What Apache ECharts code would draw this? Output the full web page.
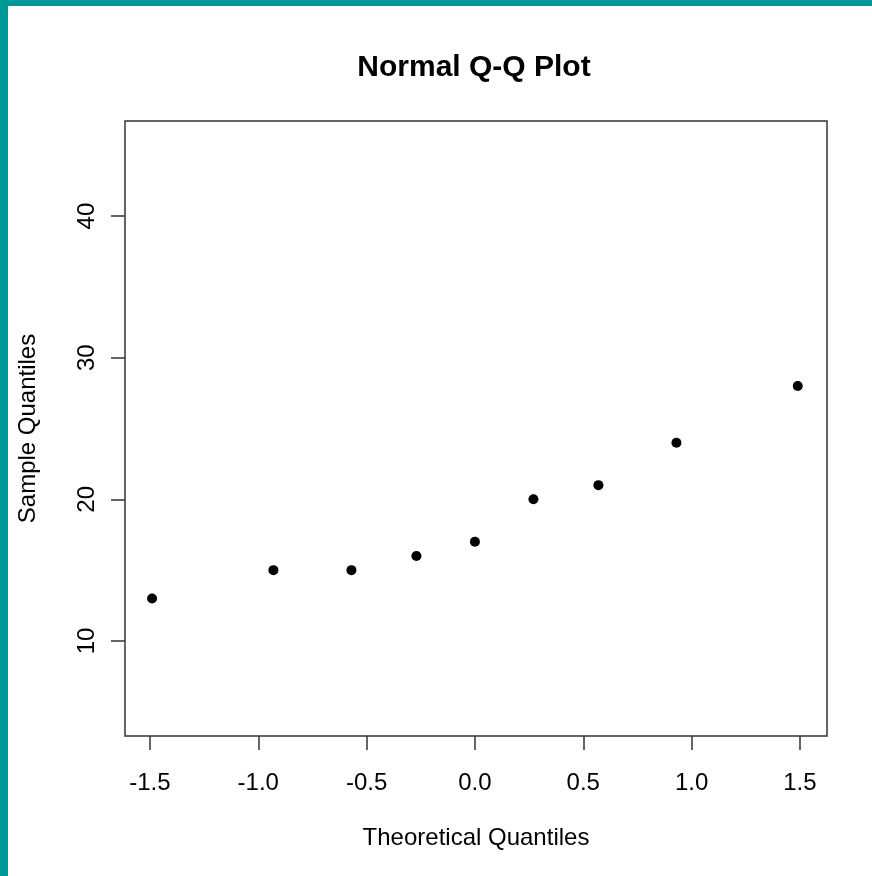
<!DOCTYPE html>
<html>
<head>
<meta charset="utf-8">
<script src="https://cdn.jsdelivr.net/npm/echarts@6/dist/echarts.min.js"></script>
<style>
html,body{margin:0;padding:0;background:#fff;}
#chart{width:872px;height:876px;}
</style>
</head>
<body>
<div id="chart"></div>
<script>
var theoretical = [-1.49, -0.93, -0.57, -0.27, 0.0, 0.27, 0.57, 0.93, 1.49];
var sample = [13, 15, 15, 16, 17, 20, 21, 24, 28];
var xTicks = [-1.5, -1.0, -0.5, 0.0, 0.5, 1.0, 1.5];
var yTicks = [10, 20, 30, 40];

var points = theoretical.map(function (x, i) { return [x, sample[i]]; });
var font = '"Liberation Sans", Arial, sans-serif';

var chart = echarts.init(document.getElementById('chart'));
chart.setOption({
  animation: false,
  backgroundColor: '#ffffff',
  title: {
    text: 'Normal Q-Q Plot',
    left: 469, top: 48, textAlign: 'center',
    textStyle: { fontFamily: font, fontSize: 30, fontWeight: 'bold', color: '#000' }
  },
  graphic: [
    { type: 'rect', shape: { x: 0, y: 0, width: 872, height: 6 }, style: { fill: '#009999' } },
    { type: 'rect', shape: { x: 0, y: 0, width: 8, height: 876 }, style: { fill: '#009999' } }
  ],
  grid: {
    left: 125, top: 121, width: 702, height: 615,
    show: true, borderColor: '#333', borderWidth: 1.5, backgroundColor: 'transparent'
  },
  xAxis: {
    type: 'value', min: -1.615, max: 1.625,
    name: 'Theoretical Quantiles', nameLocation: 'middle', nameGap: 90,
    nameTextStyle: { fontFamily: font, fontSize: 24, color: '#000' },
    splitLine: { show: false },
    axisLine: { show: false, onZero: false },
    axisTick: { show: true, length: 14, inside: false, customValues: xTicks, lineStyle: { color: '#333', width: 1.5 } },
    axisLabel: {
      customValues: xTicks, margin: 35, fontFamily: font, fontSize: 24, color: '#000',
      formatter: function (v) { return v.toFixed(1); }
    }
  },
  yAxis: {
    type: 'value', min: 3.29, max: 46.71,
    name: 'Sample Quantiles', nameLocation: 'middle', nameGap: 85,
    nameTextStyle: { fontFamily: font, fontSize: 24, color: '#000' },
    splitLine: { show: false },
    axisLine: { show: false, onZero: false },
    axisTick: { show: true, length: 14, inside: false, customValues: yTicks, lineStyle: { color: '#333', width: 1.5 } },
    axisLabel: {
      customValues: yTicks, rotate: 90, margin: 26, fontFamily: font, fontSize: 24, color: '#000'
    }
  },
  series: [{
    type: 'scatter',
    data: points,
    symbol: 'circle',
    symbolSize: 10,
    itemStyle: { color: '#000', opacity: 1 }
  }]
});
</script>
</body>
</html>
